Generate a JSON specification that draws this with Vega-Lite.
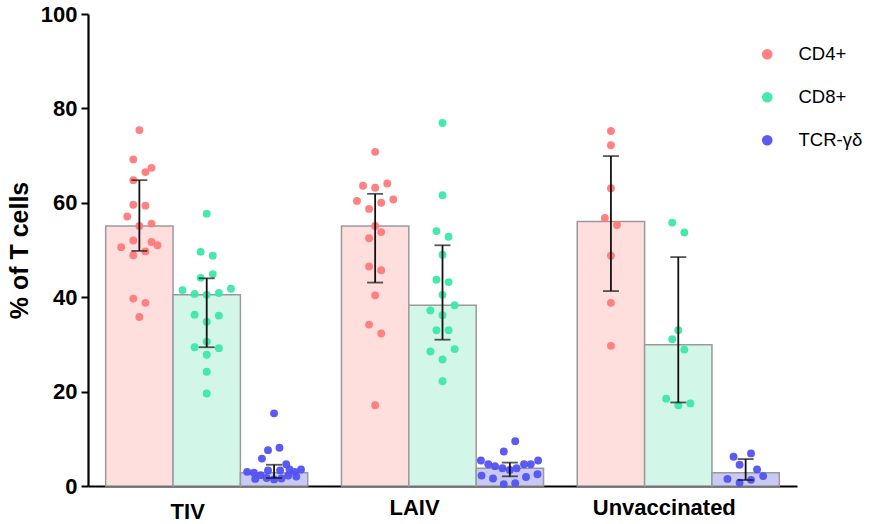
{
  "$schema": "https://vega.github.io/schema/vega-lite/v6.json",
  "autosize": {"type": "none"},
  "padding": {"left": 88, "top": 14, "right": 80, "bottom": 38},
  "width": 709,
  "height": 472,
  "background": "white",
  "config": {
    "view": {"stroke": null},
    "font": "Liberation Sans",
    "legend": {
      "orient": "none",
      "legendX": 670,
      "legendY": 31,
      "symbolType": "circle",
      "symbolSize": 115,
      "labelFont": "Liberation Sans",
      "labelFontSize": 18.5,
      "labelColor": "#000000",
      "labelOffset": 22,
      "rowPadding": 24,
      "padding": 0
    }
  },
  "datasets": {
    "bars": [
      {"group": "TIV", "cell": "CD4+", "value": 55.1, "lo": 49.8, "hi": 64.8},
      {"group": "TIV", "cell": "CD8+", "value": 40.5, "lo": 29.4, "hi": 44.0},
      {"group": "TIV", "cell": "TCR-γδ", "value": 2.8, "lo": 1.7, "hi": 4.5},
      {"group": "LAIV", "cell": "CD4+", "value": 55.1, "lo": 43.1, "hi": 61.9},
      {"group": "LAIV", "cell": "CD8+", "value": 38.3, "lo": 31.0, "hi": 51.0},
      {"group": "LAIV", "cell": "TCR-γδ", "value": 3.75, "lo": 2.05, "hi": 4.96},
      {"group": "Unvaccinated", "cell": "CD4+", "value": 56.05, "lo": 41.3, "hi": 69.9},
      {"group": "Unvaccinated", "cell": "CD8+", "value": 29.9, "lo": 17.7, "hi": 48.5},
      {"group": "Unvaccinated", "cell": "TCR-γδ", "value": 2.8, "lo": 1.27, "hi": 5.7}
    ],
    "pts": [
      {"group": "TIV", "cell": "CD4+", "value": 75.4, "j": 0},
      {"group": "TIV", "cell": "CD4+", "value": 69.2, "j": -0.09},
      {"group": "TIV", "cell": "CD4+", "value": 66.5, "j": 0.09},
      {"group": "TIV", "cell": "CD4+", "value": 67.4, "j": 0.18},
      {"group": "TIV", "cell": "CD4+", "value": 64.8, "j": -0.09},
      {"group": "TIV", "cell": "CD4+", "value": 59.6, "j": -0.09},
      {"group": "TIV", "cell": "CD4+", "value": 59.4, "j": 0.09},
      {"group": "TIV", "cell": "CD4+", "value": 57.1, "j": -0.18},
      {"group": "TIV", "cell": "CD4+", "value": 55.1, "j": 0},
      {"group": "TIV", "cell": "CD4+", "value": 55.6, "j": 0.18},
      {"group": "TIV", "cell": "CD4+", "value": 52.0, "j": -0.09},
      {"group": "TIV", "cell": "CD4+", "value": 51.7, "j": 0.18},
      {"group": "TIV", "cell": "CD4+", "value": 51.0, "j": 0.27},
      {"group": "TIV", "cell": "CD4+", "value": 50.6, "j": -0.27},
      {"group": "TIV", "cell": "CD4+", "value": 49.7, "j": 0.09},
      {"group": "TIV", "cell": "CD4+", "value": 48.9, "j": -0.09},
      {"group": "TIV", "cell": "CD4+", "value": 39.7, "j": -0.09},
      {"group": "TIV", "cell": "CD4+", "value": 38.8, "j": 0.09},
      {"group": "TIV", "cell": "CD4+", "value": 35.8, "j": 0},
      {"group": "TIV", "cell": "CD8+", "value": 57.7, "j": 0},
      {"group": "TIV", "cell": "CD8+", "value": 49.6, "j": -0.09},
      {"group": "TIV", "cell": "CD8+", "value": 48.8, "j": 0.09},
      {"group": "TIV", "cell": "CD8+", "value": 44.1, "j": -0.09},
      {"group": "TIV", "cell": "CD8+", "value": 44.9, "j": 0.09},
      {"group": "TIV", "cell": "CD8+", "value": 41.5, "j": -0.36},
      {"group": "TIV", "cell": "CD8+", "value": 40.7, "j": -0.18},
      {"group": "TIV", "cell": "CD8+", "value": 40.5, "j": 0},
      {"group": "TIV", "cell": "CD8+", "value": 40.9, "j": 0.18},
      {"group": "TIV", "cell": "CD8+", "value": 41.8, "j": 0.36},
      {"group": "TIV", "cell": "CD8+", "value": 36.3, "j": -0.18},
      {"group": "TIV", "cell": "CD8+", "value": 36.1, "j": 0.18},
      {"group": "TIV", "cell": "CD8+", "value": 34.8, "j": 0},
      {"group": "TIV", "cell": "CD8+", "value": 30.6, "j": 0},
      {"group": "TIV", "cell": "CD8+", "value": 29.4, "j": -0.18},
      {"group": "TIV", "cell": "CD8+", "value": 29.2, "j": 0.18},
      {"group": "TIV", "cell": "CD8+", "value": 27.8, "j": 0},
      {"group": "TIV", "cell": "CD8+", "value": 24.2, "j": 0},
      {"group": "TIV", "cell": "CD8+", "value": 19.6, "j": 0},
      {"group": "TIV", "cell": "TCR-γδ", "value": 15.4, "j": 0},
      {"group": "TIV", "cell": "TCR-γδ", "value": 8.1, "j": 0.08},
      {"group": "TIV", "cell": "TCR-γδ", "value": 7.6, "j": -0.09},
      {"group": "TIV", "cell": "TCR-γδ", "value": 5.8, "j": -0.18},
      {"group": "TIV", "cell": "TCR-γδ", "value": 4.6, "j": 0.18},
      {"group": "TIV", "cell": "TCR-γδ", "value": 3.0, "j": -0.4},
      {"group": "TIV", "cell": "TCR-γδ", "value": 2.8, "j": -0.3},
      {"group": "TIV", "cell": "TCR-γδ", "value": 2.3, "j": -0.2},
      {"group": "TIV", "cell": "TCR-γδ", "value": 1.7, "j": -0.11},
      {"group": "TIV", "cell": "TCR-γδ", "value": 3.3, "j": -0.09},
      {"group": "TIV", "cell": "TCR-γδ", "value": 1.4, "j": 0},
      {"group": "TIV", "cell": "TCR-γδ", "value": 3.3, "j": 0.09},
      {"group": "TIV", "cell": "TCR-γδ", "value": 1.6, "j": 0.11},
      {"group": "TIV", "cell": "TCR-γδ", "value": 2.2, "j": 0.21},
      {"group": "TIV", "cell": "TCR-γδ", "value": 3.5, "j": 0.23},
      {"group": "TIV", "cell": "TCR-γδ", "value": 3.0, "j": 0.31},
      {"group": "TIV", "cell": "TCR-γδ", "value": 3.5, "j": 0.4},
      {"group": "TIV", "cell": "TCR-γδ", "value": 1.5, "j": -0.28},
      {"group": "TIV", "cell": "TCR-γδ", "value": 2.0, "j": 0.33},
      {"group": "LAIV", "cell": "CD4+", "value": 70.8, "j": 0},
      {"group": "LAIV", "cell": "CD4+", "value": 63.6, "j": -0.18},
      {"group": "LAIV", "cell": "CD4+", "value": 63.2, "j": 0},
      {"group": "LAIV", "cell": "CD4+", "value": 64.1, "j": 0.18},
      {"group": "LAIV", "cell": "CD4+", "value": 60.4, "j": -0.27},
      {"group": "LAIV", "cell": "CD4+", "value": 60.0, "j": 0.09},
      {"group": "LAIV", "cell": "CD4+", "value": 60.7, "j": 0.27},
      {"group": "LAIV", "cell": "CD4+", "value": 58.7, "j": -0.09},
      {"group": "LAIV", "cell": "CD4+", "value": 55.1, "j": 0},
      {"group": "LAIV", "cell": "CD4+", "value": 52.5, "j": -0.09},
      {"group": "LAIV", "cell": "CD4+", "value": 53.8, "j": 0.09},
      {"group": "LAIV", "cell": "CD4+", "value": 46.5, "j": -0.09},
      {"group": "LAIV", "cell": "CD4+", "value": 45.7, "j": 0.09},
      {"group": "LAIV", "cell": "CD4+", "value": 40.4, "j": 0},
      {"group": "LAIV", "cell": "CD4+", "value": 34.2, "j": -0.09},
      {"group": "LAIV", "cell": "CD4+", "value": 32.3, "j": 0.09},
      {"group": "LAIV", "cell": "CD4+", "value": 17.1, "j": 0},
      {"group": "LAIV", "cell": "CD8+", "value": 76.9, "j": 0},
      {"group": "LAIV", "cell": "CD8+", "value": 61.6, "j": 0},
      {"group": "LAIV", "cell": "CD8+", "value": 54.0, "j": -0.09},
      {"group": "LAIV", "cell": "CD8+", "value": 52.8, "j": 0.09},
      {"group": "LAIV", "cell": "CD8+", "value": 49.0, "j": 0},
      {"group": "LAIV", "cell": "CD8+", "value": 43.7, "j": -0.09},
      {"group": "LAIV", "cell": "CD8+", "value": 43.2, "j": 0.09},
      {"group": "LAIV", "cell": "CD8+", "value": 40.5, "j": 0},
      {"group": "LAIV", "cell": "CD8+", "value": 38.3, "j": 0.18},
      {"group": "LAIV", "cell": "CD8+", "value": 37.2, "j": -0.18},
      {"group": "LAIV", "cell": "CD8+", "value": 36.2, "j": 0},
      {"group": "LAIV", "cell": "CD8+", "value": 33.0, "j": -0.09},
      {"group": "LAIV", "cell": "CD8+", "value": 33.0, "j": 0.09},
      {"group": "LAIV", "cell": "CD8+", "value": 28.5, "j": -0.18},
      {"group": "LAIV", "cell": "CD8+", "value": 29.0, "j": 0.18},
      {"group": "LAIV", "cell": "CD8+", "value": 26.8, "j": 0},
      {"group": "LAIV", "cell": "CD8+", "value": 22.2, "j": 0},
      {"group": "LAIV", "cell": "TCR-γδ", "value": 9.5, "j": 0.08},
      {"group": "LAIV", "cell": "TCR-γδ", "value": 7.3, "j": -0.09},
      {"group": "LAIV", "cell": "TCR-γδ", "value": 5.4, "j": -0.43},
      {"group": "LAIV", "cell": "TCR-γδ", "value": 4.6, "j": -0.32},
      {"group": "LAIV", "cell": "TCR-γδ", "value": 4.2, "j": -0.22},
      {"group": "LAIV", "cell": "TCR-γδ", "value": 3.75, "j": -0.11},
      {"group": "LAIV", "cell": "TCR-γδ", "value": 3.4, "j": 0},
      {"group": "LAIV", "cell": "TCR-γδ", "value": 3.75, "j": 0.1},
      {"group": "LAIV", "cell": "TCR-γδ", "value": 4.6, "j": 0.21},
      {"group": "LAIV", "cell": "TCR-γδ", "value": 4.6, "j": 0.31},
      {"group": "LAIV", "cell": "TCR-γδ", "value": 5.4, "j": 0.42},
      {"group": "LAIV", "cell": "TCR-γδ", "value": 2.2, "j": -0.42},
      {"group": "LAIV", "cell": "TCR-γδ", "value": 1.6, "j": -0.25},
      {"group": "LAIV", "cell": "TCR-γδ", "value": 0.4, "j": -0.09},
      {"group": "LAIV", "cell": "TCR-γδ", "value": 0.6, "j": 0.08},
      {"group": "LAIV", "cell": "TCR-γδ", "value": 1.9, "j": 0.24},
      {"group": "LAIV", "cell": "TCR-γδ", "value": 2.5, "j": 0.41},
      {"group": "Unvaccinated", "cell": "CD4+", "value": 75.2, "j": 0},
      {"group": "Unvaccinated", "cell": "CD4+", "value": 72.2, "j": 0},
      {"group": "Unvaccinated", "cell": "CD4+", "value": 63.1, "j": 0},
      {"group": "Unvaccinated", "cell": "CD4+", "value": 56.8, "j": -0.09},
      {"group": "Unvaccinated", "cell": "CD4+", "value": 55.3, "j": 0.09},
      {"group": "Unvaccinated", "cell": "CD4+", "value": 48.8, "j": 0},
      {"group": "Unvaccinated", "cell": "CD4+", "value": 38.8, "j": 0},
      {"group": "Unvaccinated", "cell": "CD4+", "value": 29.7, "j": 0},
      {"group": "Unvaccinated", "cell": "CD8+", "value": 55.8, "j": -0.09},
      {"group": "Unvaccinated", "cell": "CD8+", "value": 53.7, "j": 0.09},
      {"group": "Unvaccinated", "cell": "CD8+", "value": 33.0, "j": 0},
      {"group": "Unvaccinated", "cell": "CD8+", "value": 31.1, "j": -0.09},
      {"group": "Unvaccinated", "cell": "CD8+", "value": 28.9, "j": 0.09},
      {"group": "Unvaccinated", "cell": "CD8+", "value": 18.5, "j": -0.18},
      {"group": "Unvaccinated", "cell": "CD8+", "value": 17.1, "j": 0},
      {"group": "Unvaccinated", "cell": "CD8+", "value": 17.5, "j": 0.18},
      {"group": "Unvaccinated", "cell": "TCR-γδ", "value": 6.2, "j": -0.18},
      {"group": "Unvaccinated", "cell": "TCR-γδ", "value": 6.9, "j": 0.08},
      {"group": "Unvaccinated", "cell": "TCR-γδ", "value": 4.5, "j": -0.09},
      {"group": "Unvaccinated", "cell": "TCR-γδ", "value": 3.5, "j": 0.17},
      {"group": "Unvaccinated", "cell": "TCR-γδ", "value": 2.1, "j": 0.26},
      {"group": "Unvaccinated", "cell": "TCR-γδ", "value": 1.5, "j": -0.27},
      {"group": "Unvaccinated", "cell": "TCR-γδ", "value": 1.3, "j": 0.08},
      {"group": "Unvaccinated", "cell": "TCR-γδ", "value": 0.7, "j": -0.09}
    ]
  },
  "encoding": {
    "x": {
      "field": "group",
      "type": "nominal",
      "sort": ["TIV", "LAIV", "Unvaccinated"],
      "scale": {"paddingInner": 0.143, "paddingOuter": 0.075},
      "axis": {
        "title": null,
        "labelAngle": 0,
        "ticks": false,
        "domainColor": "#000000",
        "domainWidth": 2.2,
        "labelFont": "Liberation Sans",
        "labelFontWeight": "bold",
        "labelFontSize": 22,
        "labelColor": "#000000",
        "labelPadding": {"condition": {"test": "datum.value === 'TIV'", "value": 15}, "value": 11},
        "labelOffset": {"condition": [{"test": "datum.value === 'TIV'", "value": -19}, {"test": "datum.value === 'LAIV'", "value": -28}], "value": -14}
      }
    },
    "y": {
      "field": "value",
      "type": "quantitative",
      "scale": {"domain": [0, 100], "nice": false},
      "axis": {
        "title": "% of T cells",
        "values": [0, 20, 40, 60, 80, 100],
        "grid": false,
        "domainColor": "#000000",
        "domainWidth": 2.2,
        "tickColor": "#000000",
        "tickWidth": 2,
        "tickSize": 7,
        "labelFont": "Liberation Sans",
        "labelFontWeight": "bold",
        "labelFontSize": 22,
        "labelColor": "#000000",
        "labelPadding": 4,
        "titleFont": "Liberation Sans",
        "titleFontWeight": "bold",
        "titleFontSize": 25,
        "titleColor": "#000000",
        "titlePadding": 8
      }
    }
  },
  "layer": [
    {
      "data": {"name": "bars"},
      "mark": {"type": "bar", "stroke": "#9a9a9a", "strokeWidth": 1.5},
      "encoding": {
        "xOffset": {"field": "cell", "type": "nominal", "sort": ["CD4+", "CD8+", "TCR-γδ"], "scale": {"paddingInner": 0, "paddingOuter": 0}},
        "fill": {"condition": [{"test": "datum.cell === 'CD4+'", "value": "#ffdede"}, {"test": "datum.cell === 'CD8+'", "value": "#d2f7e8"}], "value": "#c9c9f8"}
      }
    },
    {
      "data": {"name": "pts"},
      "transform": [{"filter": "datum.cell === 'CD4+'"}],
      "mark": {"type": "circle", "size": 62, "opacity": 0.95},
      "encoding": {
        "xOffset": {"field": "j", "type": "quantitative", "scale": {"domain": [-0.5, 2.5], "zero": false, "nice": false}},
        "color": {"field": "cell", "type": "nominal", "scale": {"domain": ["CD4+", "CD8+", "TCR-γδ"], "range": ["#ff7a7a", "#3ce8a8", "#5252f2"]}, "legend": {"title": null}}
      }
    },
    {
      "data": {"name": "pts"},
      "transform": [{"filter": "datum.cell === 'CD8+'"}],
      "mark": {"type": "circle", "size": 62, "opacity": 0.95},
      "encoding": {
        "xOffset": {"field": "j", "type": "quantitative", "scale": {"domain": [-1.5, 1.5], "zero": false, "nice": false}},
        "color": {"field": "cell", "type": "nominal", "legend": {"title": null}}
      }
    },
    {
      "data": {"name": "pts"},
      "transform": [{"filter": "datum.cell === 'TCR-γδ'"}],
      "mark": {"type": "circle", "size": 62, "opacity": 0.95},
      "encoding": {
        "xOffset": {"field": "j", "type": "quantitative", "scale": {"domain": [-2.5, 0.5], "zero": false, "nice": false}},
        "color": {"field": "cell", "type": "nominal", "legend": {"title": null}}
      }
    },
    {
      "data": {"name": "bars"},
      "mark": {"type": "rule", "color": "#111111", "strokeWidth": 1.8},
      "encoding": {
        "xOffset": {"field": "cell", "type": "nominal", "sort": ["CD4+", "CD8+", "TCR-γδ"], "scale": {"paddingInner": 0, "paddingOuter": 0}},
        "y": {"field": "lo", "type": "quantitative"},
        "y2": {"field": "hi"}
      }
    },
    {
      "data": {"name": "bars"},
      "mark": {"type": "tick", "color": "#111111", "thickness": 1.8, "size": 16},
      "encoding": {
        "xOffset": {"field": "cell", "type": "nominal", "sort": ["CD4+", "CD8+", "TCR-γδ"], "scale": {"paddingInner": 0, "paddingOuter": 0}},
        "y": {"field": "lo", "type": "quantitative"}
      }
    },
    {
      "data": {"name": "bars"},
      "mark": {"type": "tick", "color": "#111111", "thickness": 1.8, "size": 16},
      "encoding": {
        "xOffset": {"field": "cell", "type": "nominal", "sort": ["CD4+", "CD8+", "TCR-γδ"], "scale": {"paddingInner": 0, "paddingOuter": 0}},
        "y": {"field": "hi", "type": "quantitative"}
      }
    }
  ],
  "resolve": {"scale": {"xOffset": "independent"}}
}
